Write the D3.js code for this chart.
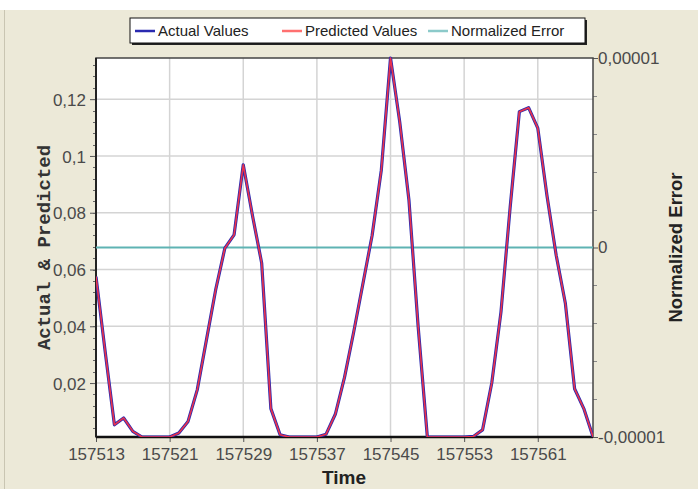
<!DOCTYPE html>
<html>
<head>
<meta charset="utf-8">
<script src="https://cdn.jsdelivr.net/npm/d3@7"></script>
<style>
  body { margin: 0; background: #ece9d8; }
  svg { display: block; }
</style>
</head>
<body>
<div id="chart"></div>
<script>
// Chart data
var times = [
  157513, 157514, 157515, 157516, 157517, 157518, 157519, 157520, 157521, 157522, 157523,
  157524, 157525, 157526, 157527, 157528, 157529, 157530, 157531, 157532, 157533, 157534,
  157535, 157536, 157537, 157538, 157539, 157540, 157541, 157542, 157543, 157544, 157545,
  157546, 157547, 157548, 157549, 157550, 157551, 157552, 157553, 157554, 157555, 157556,
  157557, 157558, 157559, 157560, 157561, 157562, 157563, 157564, 157565, 157566, 157567
];
var actualValues = [
  0.0575, 0.031, 0.0053, 0.0077, 0.003, 0.001, 0.001, 0.001, 0.001, 0.0024, 0.0065,
  0.0176, 0.0352, 0.0528, 0.0675, 0.0722, 0.0969, 0.079, 0.0623, 0.011, 0.0018, 0.001,
  0.001, 0.001, 0.001, 0.002, 0.009, 0.022, 0.038, 0.055, 0.072, 0.095, 0.1345,
  0.112, 0.0845, 0.040, 0.001, 0.001, 0.001, 0.001, 0.001, 0.0012, 0.0035, 0.02,
  0.045, 0.082, 0.1156, 0.117, 0.1098, 0.086, 0.065, 0.048, 0.018, 0.011, 0.0011
];
var predictedValues = [
  0.0575, 0.031, 0.0053, 0.0077, 0.003, 0.001, 0.001, 0.001, 0.001, 0.0024, 0.0065,
  0.0176, 0.0352, 0.0528, 0.0675, 0.0722, 0.0969, 0.079, 0.0623, 0.011, 0.0018, 0.001,
  0.001, 0.001, 0.001, 0.002, 0.009, 0.022, 0.038, 0.055, 0.072, 0.095, 0.1345,
  0.112, 0.0845, 0.040, 0.001, 0.001, 0.001, 0.001, 0.001, 0.0012, 0.0035, 0.02,
  0.045, 0.082, 0.1156, 0.117, 0.1098, 0.086, 0.065, 0.048, 0.018, 0.011, 0.0011
];
var errorValues = [
  0, 0, 0, 0, 0, 0, 0, 0, 0, 0, 0,
  0, 0, 0, 0, 0, 0, 0, 0, 0, 0, 0,
  0, 0, 0, 0, 0, 0, 0, 0, 0, 0, 0,
  0, 0, 0, 0, 0, 0, 0, 0, 0, 0, 0,
  0, 0, 0, 0, 0, 0, 0, 0, 0, 0, 0
];
var xTicks = [157513, 157521, 157529, 157537, 157545, 157553, 157561];
var yTicks = [0.02, 0.04, 0.06, 0.08, 0.1, 0.12];
var errTicks = [-0.00001, 0, 0.00001];
var legendLabels = ["Actual Values", "Predicted Values", "Normalized Error"];

// SVG area and plot box
var svgWidth = 698;
var svgHeight = 489;
var plot = { left: 96, right: 593, top: 58, bottom: 437 };

var svg = d3.select("#chart")
  .append("svg")
  .attr("width", svgWidth)
  .attr("height", svgHeight);

// background bits: page strip at the top and the window edge
svg.append("rect").attr("width", svgWidth).attr("height", svgHeight).attr("fill", "#ece9d8");
svg.append("rect").attr("width", svgWidth).attr("height", 10).attr("fill", "#fff");
svg.append("line")
  .attr("x1", 4.5).attr("x2", 4.5).attr("y1", 10).attr("y2", svgHeight)
  .attr("stroke", "#c9c5b2");

// scales
var xScale = d3.scaleLinear().domain([157513, 157567]).range([plot.left, plot.right]);
var yScale = d3.scaleLinear().domain([0.001, 0.1345]).range([plot.bottom, plot.top]);
var errScale = d3.scaleLinear().domain([-0.00001, 0.00001]).range([plot.bottom, plot.top]);

var comma = function(d) { return String(d).replace(".", ","); };

// plot background
svg.append("rect")
  .attr("x", plot.left).attr("y", plot.top)
  .attr("width", plot.right - plot.left).attr("height", plot.bottom - plot.top)
  .attr("fill", "#fff");

// grid
svg.append("g").selectAll("line.hgrid")
  .data(yTicks).enter().append("line")
  .attr("x1", plot.left).attr("x2", plot.right)
  .attr("y1", d => yScale(d)).attr("y2", d => yScale(d))
  .attr("stroke", "#d4d4d4").attr("stroke-width", 1.5);
svg.append("g").selectAll("line.vgrid")
  .data(xTicks).enter().append("line")
  .attr("x1", d => xScale(d)).attr("x2", d => xScale(d))
  .attr("y1", plot.top).attr("y2", plot.bottom)
  .attr("stroke", "#d4d4d4").attr("stroke-width", 1.5);

// axes
var tickFont = "'Liberation Sans', Arial, sans-serif";

var bottomAxis = d3.axisBottom(xScale).tickValues(xTicks).tickFormat(d3.format("d")).tickSize(5).tickSizeOuter(0);
var gx = svg.append("g").attr("transform", `translate(0, ${plot.bottom})`).call(bottomAxis);

var leftAxis = d3.axisLeft(yScale).tickValues(yTicks).tickFormat(comma).tickSize(6).tickSizeOuter(0);
var gy = svg.append("g").attr("transform", `translate(${plot.left}, 0)`).call(leftAxis);

// minor ticks on the left axis
var leftMinor = [];
for (var v = 0.004; v < 0.1345; v += 0.004) leftMinor.push(+v.toFixed(3));
svg.append("g").selectAll("line")
  .data(leftMinor).enter().append("line")
  .attr("x1", plot.left - 3).attr("x2", plot.left)
  .attr("y1", d => Math.round(yScale(d)) + 0.5).attr("y2", d => Math.round(yScale(d)) + 0.5)
  .attr("stroke", "#666");

var rightAxis = d3.axisRight(errScale).tickValues(errTicks).tickFormat(d => comma(d === 0 ? "0" : (d < 0 ? "-0.00001" : "0.00001"))).tickSize(5).tickSizeOuter(0);
var gr = svg.append("g").attr("transform", `translate(${plot.right}, 0)`).call(rightAxis);

var rightMinor = [-0.000008, -0.000006, -0.000004, -0.000002, 0.000002, 0.000004, 0.000006, 0.000008];
svg.append("g").selectAll("line")
  .data(rightMinor).enter().append("line")
  .attr("x1", plot.right).attr("x2", plot.right + 4)
  .attr("y1", d => Math.round(errScale(d)) + 0.5).attr("y2", d => Math.round(errScale(d)) + 0.5)
  .attr("stroke", "#888");

[gx, gy, gr].forEach(function(g) {
  g.selectAll("text")
    .attr("font-family", tickFont)
    .attr("font-size", "17px")
    .attr("fill", "#4a4a4a");
  g.selectAll(".tick line").attr("stroke", "#555");
  g.select(".domain").remove();
});
gx.selectAll("text").attr("dy", "0.9em");
gy.selectAll("text").attr("dx", "-1px").attr("dy", "0.36em");
gr.selectAll("text").attr("dx", "-3px");

// plot frame
svg.append("rect")
  .attr("x", plot.left).attr("y", plot.top)
  .attr("width", plot.right - plot.left).attr("height", plot.bottom - plot.top)
  .attr("fill", "none").attr("stroke", "#444").attr("stroke-width", 1.5);
svg.append("line")
  .attr("x1", plot.left).attr("x2", plot.right)
  .attr("y1", plot.bottom).attr("y2", plot.bottom)
  .attr("stroke", "#111").attr("stroke-width", 2.5);
svg.append("line")
  .attr("x1", plot.left).attr("x2", plot.left)
  .attr("y1", plot.top).attr("y2", plot.bottom)
  .attr("stroke", "#222").attr("stroke-width", 2);

// lines
svg.append("clipPath").attr("id", "plotClip")
  .append("rect")
  .attr("x", plot.left).attr("y", plot.top - 2)
  .attr("width", plot.right - plot.left).attr("height", plot.bottom - plot.top + 2);

var lineGroup = svg.append("g").attr("clip-path", "url(#plotClip)");

var errLine = d3.line().x((d, i) => xScale(times[i])).y(d => errScale(d));
lineGroup.append("path")
  .datum(errorValues)
  .attr("d", errLine)
  .attr("fill", "none").attr("stroke", "#5fb3b3").attr("stroke-width", 2);

var valLine = d3.line().x((d, i) => xScale(times[i])).y(d => yScale(d));
lineGroup.append("path")
  .datum(actualValues)
  .attr("d", valLine)
  .attr("fill", "none").attr("stroke", "#2a2ab0").attr("stroke-width", 3.2)
  .attr("stroke-linejoin", "round");
lineGroup.append("path")
  .datum(predictedValues)
  .attr("d", valLine)
  .attr("fill", "none").attr("stroke", "#ff3340").attr("stroke-width", 1.6)
  .attr("stroke-linejoin", "round")
  .attr("opacity", 0.9);

// axis titles
svg.append("text")
  .attr("transform", `translate(43, ${(plot.top + plot.bottom) / 2}) rotate(-90)`)
  .attr("text-anchor", "middle")
  .attr("dy", "0.35em")
  .attr("font-family", "'Liberation Mono', 'Courier New', monospace")
  .attr("font-weight", "bold")
  .attr("font-size", "19px")
  .attr("fill", "#333")
  .text("Actual & Predicted");

svg.append("text")
  .attr("transform", `translate(676, ${(plot.top + plot.bottom) / 2}) rotate(-90)`)
  .attr("text-anchor", "middle")
  .attr("dy", "0.35em")
  .attr("font-family", tickFont)
  .attr("font-weight", "bold")
  .attr("font-size", "18.5px")
  .attr("fill", "#222")
  .text("Normalized Error");

svg.append("text")
  .attr("x", 344).attr("y", 484)
  .attr("text-anchor", "middle")
  .attr("font-family", tickFont)
  .attr("font-weight", "bold")
  .attr("font-size", "19px")
  .attr("fill", "#222")
  .text("Time");

// legend
var legend = { x: 130, y: 18, w: 455, h: 25 };
svg.append("rect")
  .attr("x", legend.x + 2).attr("y", legend.y + 2)
  .attr("width", legend.w).attr("height", legend.h)
  .attr("fill", "#222");
svg.append("rect")
  .attr("x", legend.x).attr("y", legend.y)
  .attr("width", legend.w).attr("height", legend.h)
  .attr("fill", "#fff").attr("stroke", "#111");

var legendColors = ["#2a2ab0", "#ff7070", "#8ccaca"];
var legendX = [135, 282, 428];
var items = svg.append("g").selectAll("g")
  .data(legendLabels).enter().append("g")
  .attr("transform", (d, i) => `translate(${legendX[i]}, ${legend.y + 13})`);
items.append("line")
  .attr("x1", 0).attr("x2", 20)
  .attr("stroke", (d, i) => legendColors[i]).attr("stroke-width", 2.5);
items.append("text")
  .attr("x", 23).attr("dy", "0.36em")
  .attr("font-family", tickFont)
  .attr("font-size", "15px")
  .attr("fill", "#222")
  .text(d => d);
</script>
</body>
</html>
